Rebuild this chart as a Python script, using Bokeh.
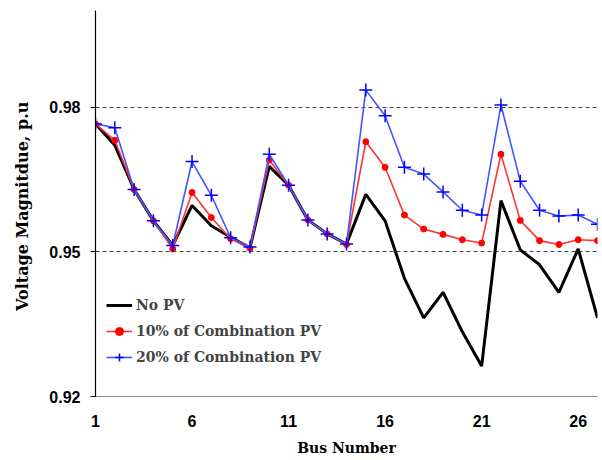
from bokeh.plotting import figure
from bokeh.models import FixedTicker, Legend, LegendItem, Range1d
from bokeh.embed import file_html
from bokeh.resources import INLINE

bus = list(range(1, 28))
no_pv = [0.9765, 0.9721, 0.9629, 0.9564, 0.9513, 0.9596, 0.9554, 0.9530, 0.9508, 0.9677,
         0.9638, 0.9566, 0.9537, 0.9516, 0.9619, 0.9564, 0.9445, 0.9363, 0.9416, 0.9334,
         0.9263, 0.9606, 0.9504, 0.9473, 0.9416, 0.9506, 0.9363]
pv10 = [0.9765, 0.9731, 0.9629, 0.9564, 0.9506, 0.9623, 0.9571, 0.9527, 0.9507, 0.9690,
        0.9638, 0.9566, 0.9537, 0.9515, 0.9728, 0.9675, 0.9576, 0.9547, 0.9536, 0.9525,
        0.9518, 0.9702, 0.9565, 0.9523, 0.9515, 0.9525, 0.9523]
pv20 = [0.9765, 0.9757, 0.9629, 0.9564, 0.9513, 0.9687, 0.9617, 0.9529, 0.9510, 0.9702,
        0.9638, 0.9566, 0.9537, 0.9516, 0.9835, 0.9782, 0.9675, 0.9661, 0.9624, 0.9586,
        0.9576, 0.9804, 0.9646, 0.9586, 0.9574, 0.9576, 0.9557]
x_ticks = [1, 6, 11, 16, 21, 26]
y_ticks = [0.92, 0.95, 0.98]

p = figure(width=598, height=458, output_backend="svg", toolbar_location=None,
           x_range=Range1d(1, 27), y_range=Range1d(0.92, 1.0),
           min_border_left=95, min_border_right=1, min_border_top=10, min_border_bottom=56)
p.outline_line_color = None
p.background_fill_color = "white"

p.xgrid.grid_line_color = None
p.ygrid.grid_line_color = "#444444"
p.ygrid.grid_line_dash = "4 3"
p.ygrid.grid_line_width = 1

p.xaxis.ticker = FixedTicker(ticks=x_ticks)
p.yaxis.ticker = FixedTicker(ticks=y_ticks)
p.yaxis.formatter.use_scientific = False
p.xaxis.minor_tick_line_color = None
p.yaxis.minor_tick_line_color = None
p.xaxis.major_tick_line_color = None
p.yaxis.major_tick_line_color = "black"
p.yaxis.major_tick_out = 5
p.yaxis.major_tick_in = 0
p.xaxis.axis_line_color = "#888888"
p.yaxis.axis_line_color = "black"
p.yaxis.axis_line_width = 1.2

for ax in (p.xaxis, p.yaxis):
    ax.major_label_text_font = "Liberation Sans"
    ax.major_label_text_font_style = "bold"
    ax.major_label_text_font_size = "16px"
    ax.major_label_text_color = "black"
    ax.axis_label_text_font = "DejaVu Serif"
    ax.axis_label_text_font_style = "bold"
    ax.axis_label_text_color = "black"

p.xaxis.axis_label_text_font_size = "14px"
p.yaxis.axis_label_text_font_size = "16px"
p.yaxis.major_label_standoff = 10
p.xaxis.major_label_standoff = 12
p.xaxis.axis_label = "Bus Number"
p.yaxis.axis_label = "Voltage  Magnitdue, p.u"
p.xaxis.axis_label_standoff = 10
p.yaxis.axis_label_standoff = 14

r0 = p.line(bus, no_pv, line_color="black", line_width=3)
r1 = p.line(bus, pv10, line_color="#ff3333", line_width=1.6)
r1m = p.scatter(bus, pv10, marker="circle", size=6, fill_color="red", line_color="red")
r2 = p.line(bus, pv20, line_color="#4455ff", line_width=1.6)
r2m = p.scatter(bus, pv20, marker="cross", size=13, line_color="blue", line_width=1.5)

legend = Legend(items=[
    LegendItem(label="No PV", renderers=[r0]),
    LegendItem(label="10% of Combination PV", renderers=[r1, r1m]),
    LegendItem(label="20% of Combination PV", renderers=[r2, r2m]),
], location=(11, 29))
legend.background_fill_alpha = 0
legend.border_line_color = None
legend.label_text_font = "DejaVu Serif"
legend.label_text_font_style = "bold"
legend.label_text_font_size = "14px"
legend.glyph_width = 26
legend.spacing = 6
legend.label_standoff = 4
p.add_layout(legend, "center")

open("out.html", "w").write(file_html(p, INLINE))
